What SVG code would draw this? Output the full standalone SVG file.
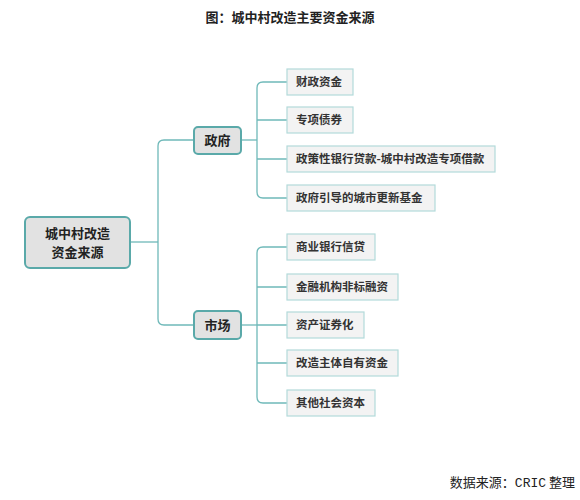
<svg xmlns="http://www.w3.org/2000/svg" width="580" height="500" viewBox="0 0 580 500">
<style>
text{font-family:"Noto Sans CJK SC","Noto Sans",sans-serif;fill:#222}
.t{font-size:13px;font-weight:bold}
.root{fill:#e2e2e2;stroke:#5aa9a9;stroke-width:2}
.mid{fill:#e2e2e2;stroke:#5aa9a9;stroke-width:2}
.leaf{fill:#f3f3f3;stroke:#b3dada;stroke-width:1.2}
.lt{font-size:11.5px;font-weight:bold;fill:#333}
.mt{font-size:13px;font-weight:bold}
.c{fill:none;stroke:#6fb9b9;stroke-width:1.3}
</style>
<rect width="580" height="500" fill="#fff"/>
<text class="t" x="290" y="22" text-anchor="middle">图：城中村改造主要资金来源</text>
<g id="connectors">
<path class="c" d="M130 242H158"/>
<path class="c" d="M193 140H164Q158 140 158 146V319Q158 325 164 325H193"/>
<path class="c" d="M241 140H257"/>
<path class="c" d="M287 82H263Q257 82 257 88V192Q257 198 263 198H287"/>
<path class="c" d="M257 120H287M257 159H287"/>
<path class="c" d="M241 325H257"/>
<path class="c" d="M287 247H263Q257 247 257 253V397Q257 403 263 403H287"/>
<path class="c" d="M257 287H287M257 325H287M257 363H287"/>
</g>
<g id="root"><rect class="root" x="25" y="217" width="105" height="51" rx="5"/><text class="mt" x="77.5" y="238" text-anchor="middle">城中村改造</text><text class="mt" x="77.5" y="257" text-anchor="middle">资金来源</text></g>
<g id="gov"><rect class="mid" x="194" y="127" width="47" height="27" rx="4"/><text class="mt" x="217.5" y="145" text-anchor="middle">政府</text></g>
<g id="market"><rect class="mid" x="194" y="311" width="47" height="28" rx="4"/><text class="mt" x="217.5" y="330" text-anchor="middle">市场</text></g>
<g id="g1"><rect class="leaf" x="287" y="69" width="66" height="26"/><text class="lt" x="296" y="86">财政资金</text></g>
<g id="g2"><rect class="leaf" x="287" y="107" width="66" height="26"/><text class="lt" x="296" y="124">专项债券</text></g>
<g id="g3"><rect class="leaf" x="287" y="146" width="208" height="26"/><text class="lt" x="296" y="163">政策性银行贷款-城中村改造专项借款</text></g>
<g id="g4"><rect class="leaf" x="287" y="185" width="148" height="26"/><text class="lt" x="296" y="202">政府引导的城市更新基金</text></g>
<g id="m1"><rect class="leaf" x="287" y="234" width="88" height="26"/><text class="lt" x="296" y="251">商业银行信贷</text></g>
<g id="m2"><rect class="leaf" x="287" y="274" width="111" height="26"/><text class="lt" x="296" y="291">金融机构非标融资</text></g>
<g id="m3"><rect class="leaf" x="287" y="312" width="77" height="26"/><text class="lt" x="296" y="329">资产证券化</text></g>
<g id="m4"><rect class="leaf" x="287" y="350" width="111" height="26"/><text class="lt" x="296" y="367">改造主体自有资金</text></g>
<g id="m5"><rect class="leaf" x="287" y="390" width="88" height="26"/><text class="lt" x="296" y="407">其他社会资本</text></g>
<text x="575" y="487" text-anchor="end" font-size="13">数据来源：<tspan font-family="'Liberation Mono',monospace">CRIC</tspan> 整理</text>
</svg>
